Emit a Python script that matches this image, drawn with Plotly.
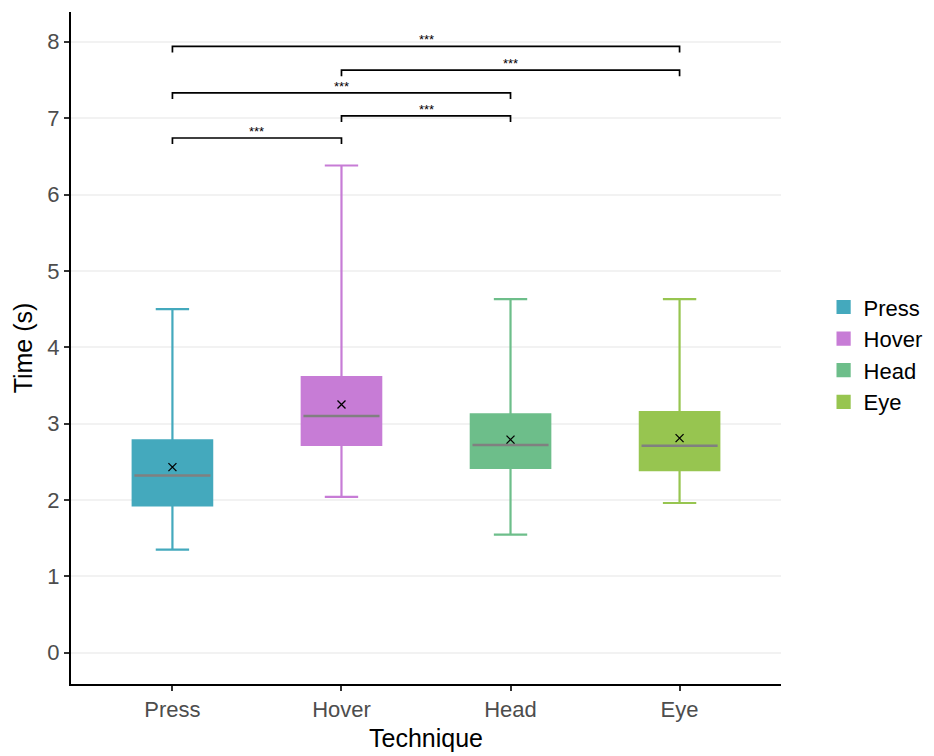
import plotly.graph_objects as go

techniques = ["Press", "Hover", "Head", "Eye"]
colors = ["#44A9BD", "#C77CD6", "#6DBE8A", "#97C550"]
lower_whisker = [1.35, 2.04, 1.545, 1.96]
q1 = [1.93, 2.72, 2.42, 2.39]
median = [2.32, 3.10, 2.72, 2.71]
q3 = [2.78, 3.61, 3.12, 3.15]
upper_whisker = [4.50, 6.38, 4.63, 4.63]
means = [2.43, 3.25, 2.79, 2.81]

comparisons = [("Press", "Hover"), ("Hover", "Head"), ("Press", "Head"),
               ("Hover", "Eye"), ("Press", "Eye")]
bracket_heights = [6.74, 7.03, 7.33, 7.63, 7.94]
bracket_labels = ["***", "***", "***", "***", "***"]

box_w = 0.47
tick_len = 0.08

fig = go.Figure()
xs = list(range(len(techniques)))
for i, t in enumerate(techniques):
    fig.add_trace(go.Box(
        x=[xs[i]], q1=[q1[i]], median=[median[i]], q3=[q3[i]],
        lowerfence=[lower_whisker[i]], upperfence=[upper_whisker[i]],
        name=t, fillcolor=colors[i], line=dict(color=colors[i], width=2.2),
        width=box_w, whiskerwidth=0.42, boxpoints=False, showlegend=True,
        hoverinfo="skip"))
    fig.add_trace(go.Scatter(
        x=[xs[i] - box_w / 2 + 0.01, xs[i] + box_w / 2 - 0.01],
        y=[median[i], median[i]], mode="lines",
        line=dict(color="#808080", width=2.5), showlegend=False, hoverinfo="skip"))

fig.add_trace(go.Scatter(
    x=xs, y=means, mode="markers",
    marker=dict(symbol="x-thin", size=8, line=dict(color="black", width=1.3)),
    showlegend=False, hoverinfo="skip"))

for (a, b), h, lab in zip(comparisons, bracket_heights, bracket_labels):
    xa, xb = techniques.index(a), techniques.index(b)
    fig.add_trace(go.Scatter(
        x=[xa, xa, xb, xb], y=[h - tick_len, h, h, h - tick_len], mode="lines",
        line=dict(color="black", width=1.7), showlegend=False, hoverinfo="skip"))
    fig.add_annotation(x=(xa + xb) / 2, y=h, text=lab, showarrow=False,
                       yanchor="bottom", yshift=-3, font=dict(size=13, color="black"))

fig.update_layout(
    width=926, height=748,
    margin=dict(l=63, r=153, t=4, b=72),
    plot_bgcolor="white", paper_bgcolor="white",
    font=dict(family="Liberation Sans, Arial, sans-serif"),
    legend=dict(x=1.06, y=0.49, yanchor="middle", xanchor="left",
                font=dict(size=22, color="black"), tracegroupgap=0,
                bgcolor="rgba(0,0,0,0)"),
    xaxis=dict(
        range=[-0.6, 3.6], tickvals=xs, ticktext=techniques,
        showline=True, linecolor="black", linewidth=2, mirror=False,
        ticks="outside", ticklen=5, tickcolor="#333333", tickwidth=1.5,
        tickfont=dict(size=22, color="#4d4d4d"), showgrid=False, zeroline=False,
        title=dict(text="Technique", font=dict(size=25, color="black"), standoff=8)),
    yaxis=dict(
        range=[-0.41, 8.39], tickvals=list(range(0, 9)),
        showline=True, linecolor="black", linewidth=2,
        ticks="outside", ticklen=5, tickcolor="#333333", tickwidth=1.5,
        tickfont=dict(size=22, color="#4d4d4d"),
        showgrid=True, gridcolor="#f2f2f2", gridwidth=1.5, zeroline=False,
        title=dict(text="Time (s)", font=dict(size=25, color="black"), standoff=8)),
)

fig.write_html("out.html")
